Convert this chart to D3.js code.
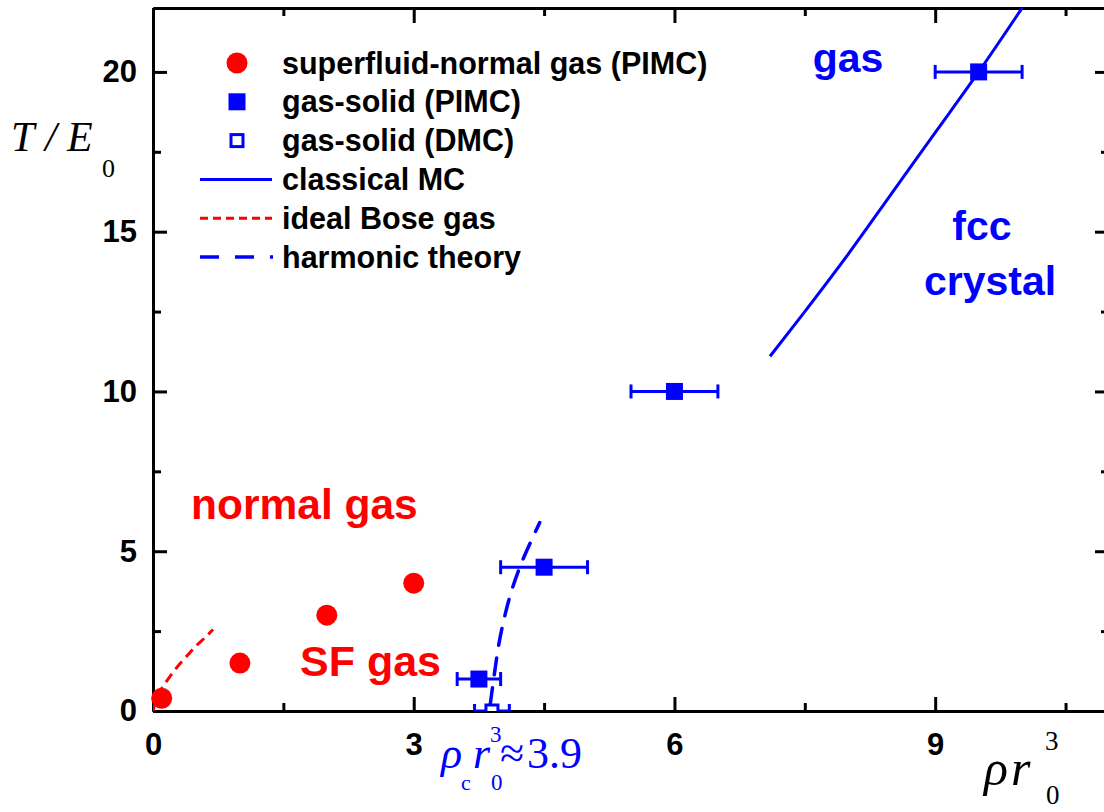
<!DOCTYPE html>
<html><head><meta charset="utf-8">
<script src="https://cdn.jsdelivr.net/npm/d3@7"></script>
<style>body{margin:0;background:#fff} svg{display:block}</style>
</head><body>
<svg id="c" width="1104" height="812"></svg>
<script>
// ---- data ----
const sfNormalPIMC = [[0.1,0.4],[1.0,1.5],[2.0,3.0],[3.0,4.0]];
const gasSolidPIMC = [{x:3.75,y:1.0,err:0.25},{x:4.5,y:4.5,err:0.5},{x:6.0,y:10.0,err:0.5},{x:9.5,y:20.0,err:0.5}];
const gasSolidDMC = [{x:3.9,y:0.0,err:0.2}];
const classicalMC = [[7.1,11.1],[7.5,12.5],[8.0,14.3],[8.5,16.2],[9.0,18.1],[9.5,20.0],[10.0,22.0]];
const idealBose = [[0,0],[0.05,0.45],[0.1,0.7],[0.2,1.1],[0.3,1.45],[0.4,1.75],[0.5,2.05],[0.6,2.3],[0.69,2.55]];
const harmonic = [[3.88,0.2],[3.93,1.2],[3.98,2.1],[4.05,3.0],[4.13,3.8],[4.25,4.7],[4.45,5.9]];
const xTicks = [0,3,6,9];
const xMinor = [1.5,4.5,7.5,10.5];
const yTicks = [0,5,10,15,20];
const yMinor = [2.5,7.5,12.5,17.5];
const legendLabels = ["superfluid-normal gas (PIMC)","gas-solid (PIMC)","gas-solid (DMC)","classical MC","ideal Bose gas","harmonic theory"];

const BLUE="#0000ff", RED="#ff0000";
const SANS="'Liberation Sans', Arial, sans-serif";
const SERIF="'Liberation Serif', 'Times New Roman', serif";

const svg = d3.select("#c");
const L=153, R=1109, T=8, B=711;
const x = d3.scaleLinear().domain([0,11]).range([L,R]);
const y = d3.scaleLinear().domain([0,22]).range([B,T]);

svg.append("defs").append("clipPath").attr("id","clip")
  .append("rect").attr("x",L).attr("y",T).attr("width",R-L).attr("height",B-T);

// ---- axes ----
function styleAxis(g){
  g.select(".domain").attr("stroke","#000").attr("stroke-width",3);
  g.selectAll(".tick line").attr("stroke","#000").attr("stroke-width",3);
  g.selectAll("text").attr("font-family",SANS).attr("font-weight","bold").attr("font-size",31).attr("fill","#000");
}
const axG = svg.append("g");
axG.append("g").attr("transform",`translate(0,${B})`)
  .call(d3.axisBottom(x).tickValues(xTicks).tickFormat(d3.format("d")).tickSizeInner(-14).tickSizeOuter(0).tickPadding(22)).call(styleAxis);
axG.append("g").attr("transform",`translate(0,${B})`)
  .call(d3.axisBottom(x).tickValues(xMinor).tickFormat("").tickSizeInner(-8).tickSizeOuter(0)).call(styleAxis);
axG.append("g").attr("transform",`translate(0,${T})`)
  .call(d3.axisTop(x).tickValues(xTicks).tickFormat("").tickSizeInner(-15).tickSizeOuter(0)).call(styleAxis);
axG.append("g").attr("transform",`translate(0,${T})`)
  .call(d3.axisTop(x).tickValues(xMinor).tickFormat("").tickSizeInner(-8).tickSizeOuter(0)).call(styleAxis);
axG.append("g").attr("transform",`translate(${L},0)`)
  .call(d3.axisLeft(y).tickValues(yTicks).tickFormat(d3.format("d")).tickSizeInner(-14).tickSizeOuter(0).tickPadding(16)).call(styleAxis);
axG.append("g").attr("transform",`translate(${L},0)`)
  .call(d3.axisLeft(y).tickValues(yMinor).tickFormat("").tickSizeInner(-8).tickSizeOuter(0)).call(styleAxis);
axG.append("g").attr("transform",`translate(${R},0)`)
  .call(d3.axisRight(y).tickValues(yTicks).tickFormat("").tickSizeInner(-14).tickSizeOuter(0)).call(styleAxis);
axG.append("g").attr("transform",`translate(${R},0)`)
  .call(d3.axisRight(y).tickValues(yMinor).tickFormat("").tickSizeInner(-8).tickSizeOuter(0)).call(styleAxis);

// ---- data layer ----
const plot = svg.append("g").attr("clip-path","url(#clip)");
const line = d3.line().x(d=>x(d[0])).y(d=>y(d[1])).curve(d3.curveMonotoneX);

plot.append("path").datum(classicalMC).attr("d",line).attr("fill","none").attr("stroke",BLUE).attr("stroke-width",3);
plot.append("path").datum(idealBose).attr("d",d3.line().x(d=>x(d[0])).y(d=>y(d[1])).curve(d3.curveCatmullRom))
  .attr("fill","none").attr("stroke",RED).attr("stroke-width",3).attr("stroke-dasharray","10,6");
plot.append("path").datum(harmonic).attr("d",d3.line().x(d=>x(d[0])).y(d=>y(d[1])).curve(d3.curveCatmullRom))
  .attr("fill","none").attr("stroke",BLUE).attr("stroke-width",3.5).attr("stroke-dasharray","17,13").attr("stroke-linecap","round");

function errBars(data){
  const g = plot.append("g").attr("stroke",BLUE).attr("stroke-width",3);
  data.forEach(d=>{
    g.append("line").attr("x1",x(d.x-d.err)).attr("x2",x(d.x+d.err)).attr("y1",y(d.y)).attr("y2",y(d.y));
    [d.x-d.err,d.x+d.err].forEach(v=>g.append("line").attr("x1",x(v)).attr("x2",x(v)).attr("y1",y(d.y)-7).attr("y2",y(d.y)+7));
  });
}
errBars(gasSolidPIMC);
errBars(gasSolidDMC);

plot.selectAll(".sq").data(gasSolidPIMC).join("rect")
  .attr("x",d=>x(d.x)-8.5).attr("y",d=>y(d.y)-8.5).attr("width",17).attr("height",17).attr("fill",BLUE);
plot.selectAll(".osq").data(gasSolidDMC).join("rect")
  .attr("x",d=>x(d.x)-6).attr("y",d=>y(d.y)-6).attr("width",12).attr("height",12).attr("fill","#fff").attr("stroke",BLUE).attr("stroke-width",3);
svg.append("g").selectAll("circle").data(sfNormalPIMC).join("circle")
  .attr("cx",d=>x(d[0])).attr("cy",d=>y(d[1])).attr("r",10.5).attr("fill",RED);

// ---- legend ----
const lg = svg.append("g");
const rowY = i => 63 + i*38.8;
lg.append("circle").attr("cx",237).attr("cy",rowY(0)).attr("r",10.5).attr("fill",RED);
lg.append("rect").attr("x",237-8.5).attr("y",rowY(1)-8.5).attr("width",17).attr("height",17).attr("fill",BLUE);
lg.append("rect").attr("x",237-6).attr("y",rowY(2)-6).attr("width",12).attr("height",12).attr("fill","#fff").attr("stroke",BLUE).attr("stroke-width",3);
lg.append("line").attr("x1",200).attr("x2",272).attr("y1",rowY(3)).attr("y2",rowY(3)).attr("stroke",BLUE).attr("stroke-width",3);
lg.append("line").attr("x1",200).attr("x2",272).attr("y1",rowY(4)).attr("y2",rowY(4)).attr("stroke",RED).attr("stroke-width",3).attr("stroke-dasharray","8,5");
lg.append("line").attr("x1",200).attr("x2",273).attr("y1",rowY(5)).attr("y2",rowY(5)).attr("stroke",BLUE).attr("stroke-width",3.5).attr("stroke-dasharray","19,16");
lg.selectAll("text").data(legendLabels).join("text")
  .attr("x",282).attr("y",(d,i)=>rowY(i)+10.5).text(d=>d)
  .attr("font-family",SANS).attr("font-weight","bold").attr("font-size",30.5).attr("fill","#000");

// ---- annotations ----
function ann(t,xx,yy,col,anchor,size){
  svg.append("text").attr("x",xx).attr("y",yy).text(t).attr("fill",col)
    .attr("font-family",SANS).attr("font-weight","bold").attr("font-size",size||41).attr("text-anchor",anchor||"start");
}
ann("gas",848,72,BLUE,"middle");
ann("fcc",982,240,BLUE,"middle");
ann("crystal",990,295,BLUE,"middle");
ann("normal gas",191,519,RED,"start",42.5);
ann("SF gas",300,676,RED,"start",43);

// serif labels
function st(t,xx,yy,size,col,italic){
  svg.append("text").attr("x",xx).attr("y",yy).text(t).attr("fill",col)
    .attr("font-family",SERIF).attr("font-size",size).attr("font-style",italic?"italic":"normal");
}
// y title T / E0
st("T",11,151,42,"#000",true);
st("/",45,151,42,"#000",true);
st("E",67,151,42,"#000",true);
st("0",102,177,26,"#000",false);
// x title rho r0^3
st("ρ",984,785,50,"#000",true);
st("r",1011,785,50,"#000",true);
st("3",1045,750,27,"#000",false);
st("0",1046,804,27,"#000",false);
// critical density
st("ρ",441,768,44,BLUE,true);
st("c",461,790,22,BLUE,false);
st("r",473,768,44,BLUE,true);
st("3",490,742,23,BLUE,false);
st("0",491,790,23,BLUE,false);
st("≈",500,768,44,BLUE,false);
st("3.9",527,768,44,BLUE,false);
</script>
</body></html>
